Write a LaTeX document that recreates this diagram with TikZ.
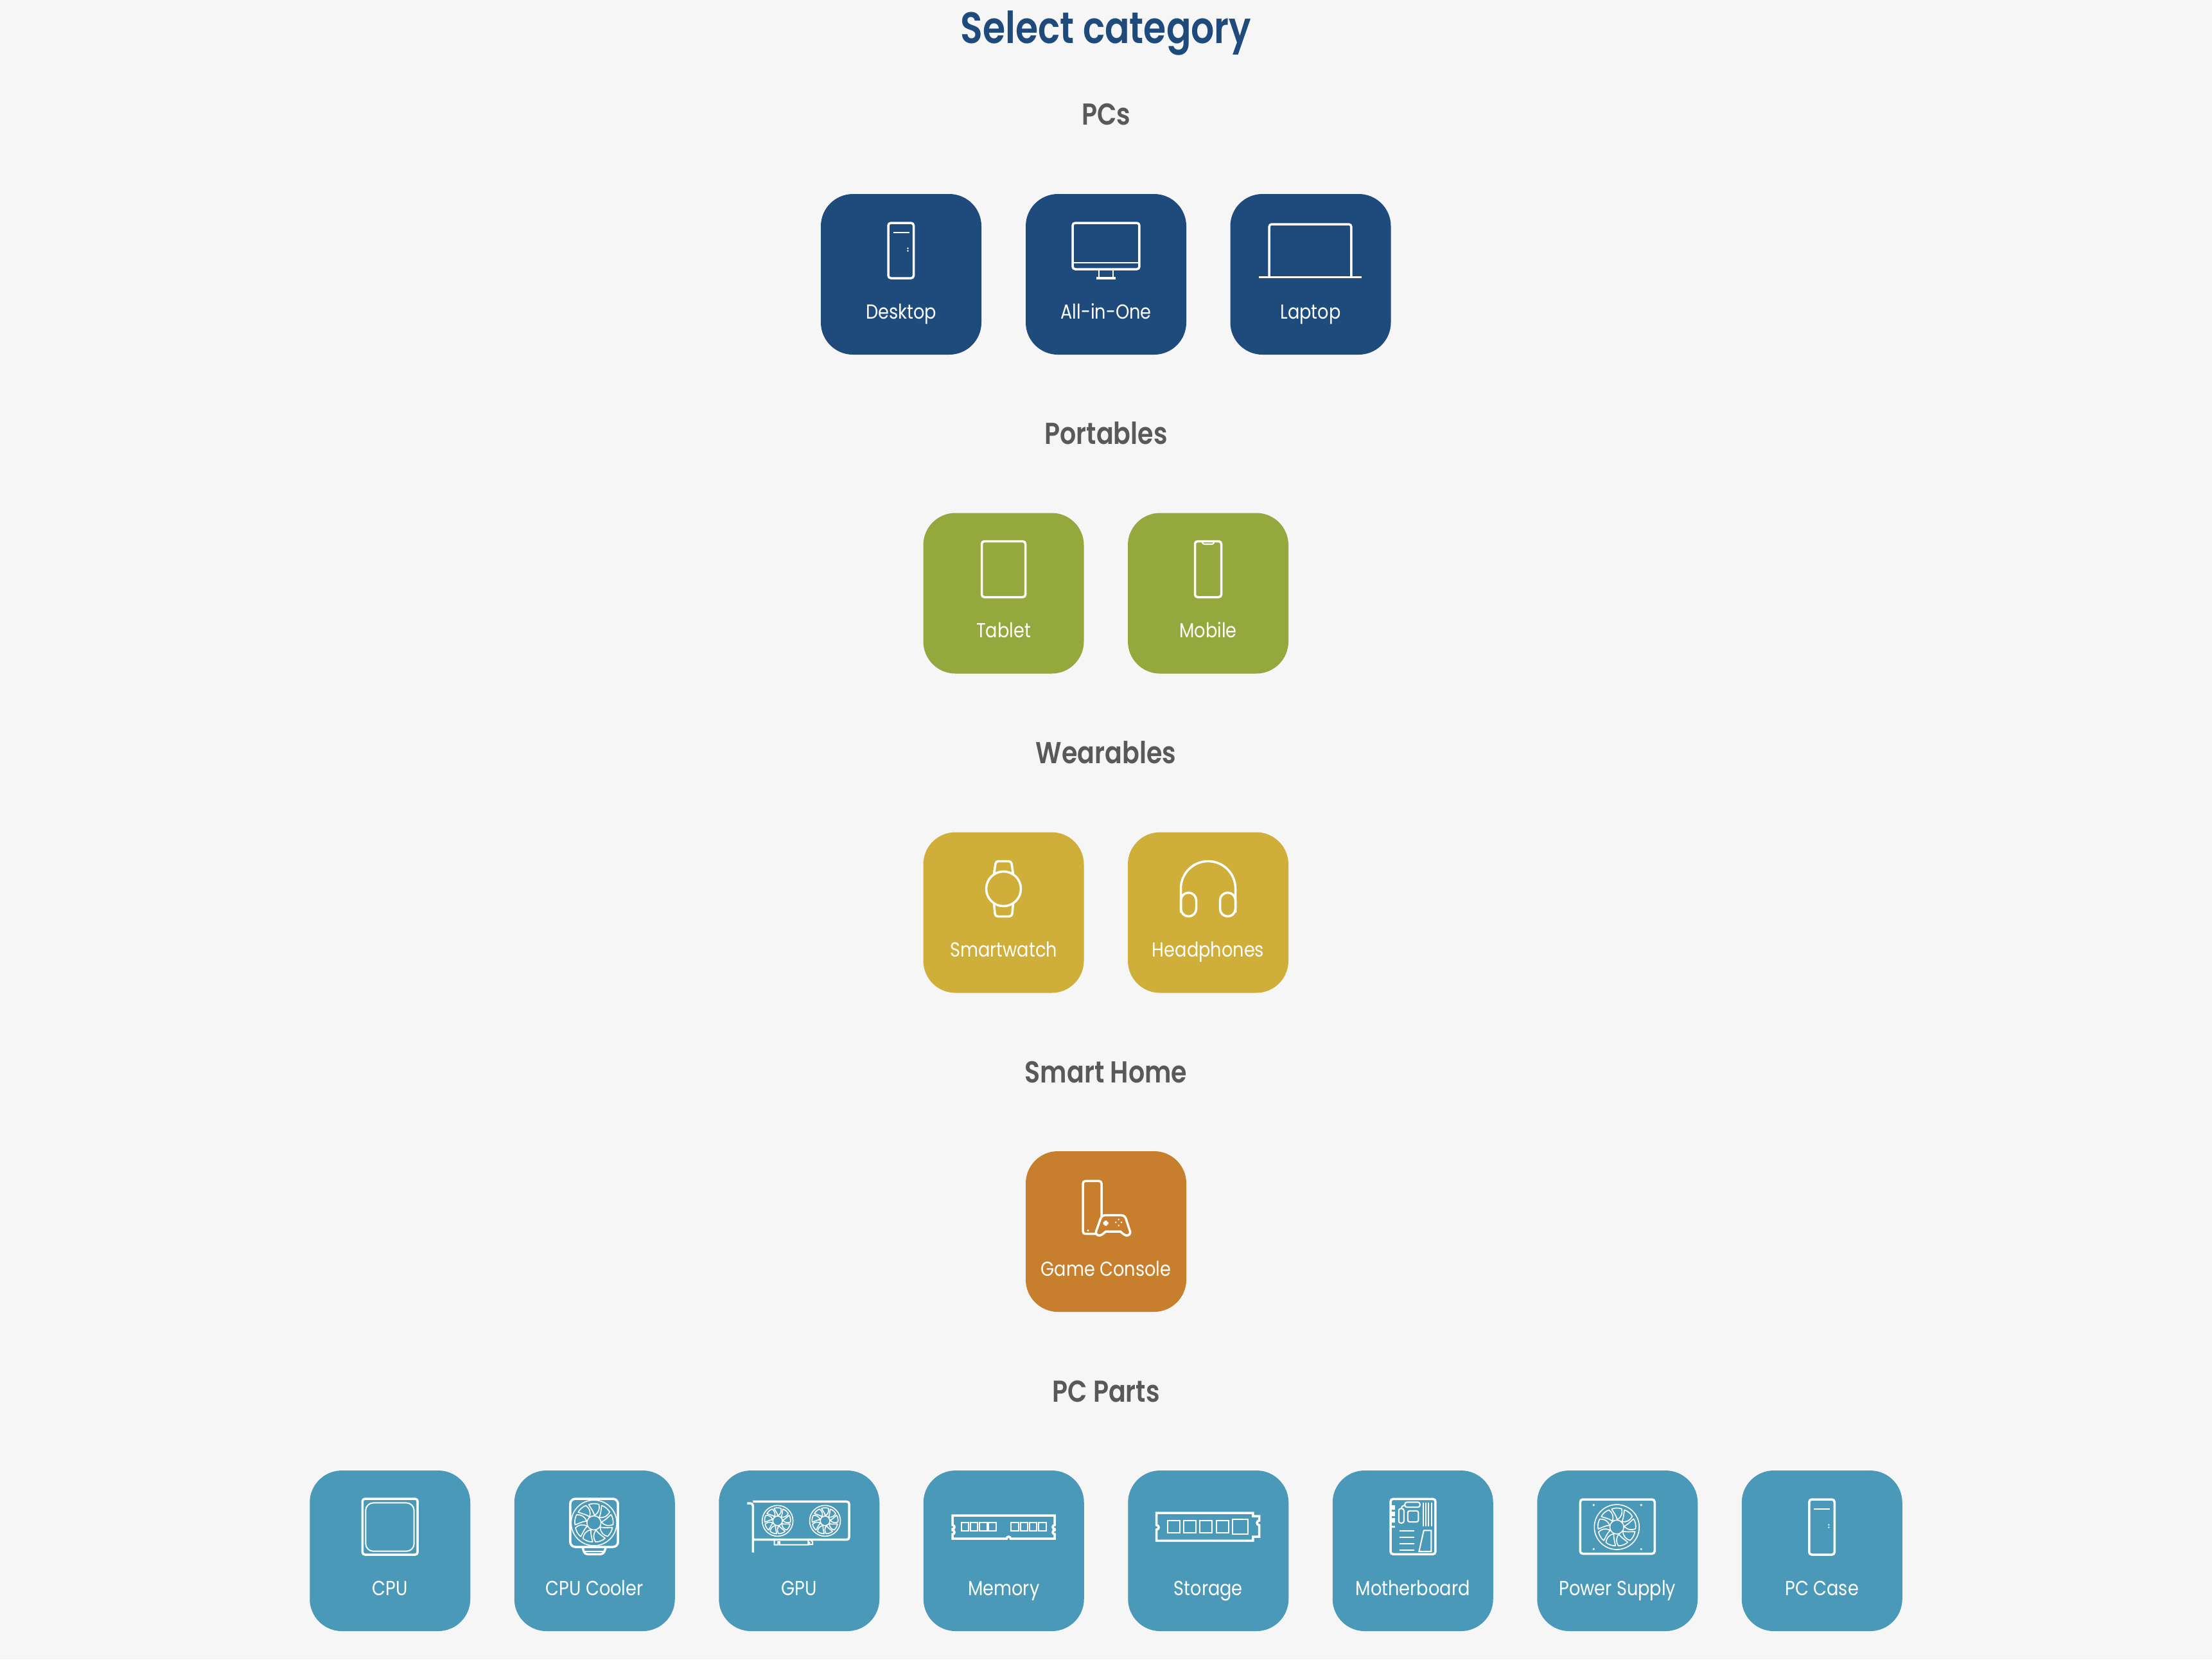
\documentclass[tikz,border=0pt]{standalone}
\usepackage{fontspec}
\setmainfont[FakeStretch=0.86]{Poppins}
\newfontfamily\headfont[FakeStretch=0.84]{Poppins SemiBold}
\newfontfamily\titlefont[FakeStretch=0.83]{Poppins SemiBold}

\definecolor{pagebg}{HTML}{F6F6F6}
\definecolor{pcblue}{HTML}{1F4B7C}
\definecolor{portgreen}{HTML}{95A83E}
\definecolor{wearyellow}{HTML}{D0AE3A}
\definecolor{homeorange}{HTML}{C77F2E}
\definecolor{partteal}{HTML}{4B99B8}
\definecolor{headgrey}{HTML}{595959}

% Fan at (#1,#2), radius #3
\newcommand{\drawfan}[3]{
    \begin{scope}[shift={(#1,#2)}, scale=#3]
        \draw[iconfan] (0,0) circle (1);
        \draw[iconfan] (0,0) circle (0.31);
        \foreach \a in {0,40,...,320}
            \draw[iconfan, rotate=\a] (0.02,0.33) .. controls (-0.02,0.5) and (-0.12,0.62) .. (-0.23,0.8)
                .. controls (-0.1,0.86) and (0.08,0.86) .. (0.22,0.81) .. controls (0.26,0.62) and (0.22,0.45) .. (0.02,0.33) -- cycle;
    \end{scope}
}

\tikzset{
    catbox/.style={rectangle, minimum size=2.5cm, inner sep=0, outer sep=0, rounded corners=0.5cm},
    catlabel/.style={anchor=base, inner sep=0, white, font=\fontsize{9}{11}\selectfont},
    headlabel/.style={anchor=base, inner sep=0, headgrey, font=\headfont\fontsize{13.4}{16}\selectfont},
    icon/.style={scale=0.01},
    iconline/.style={white, line width=0.035cm, rounded corners=0.04cm},
    iconthin/.style={white, line width=0.02cm, rounded corners=0.03cm},
    iconfan/.style={white, line width=0.016cm, line join=round},
    pics/towericon/.style={code={
        \draw[iconline] (-20,-6) rectangle (19.5,80);
        \draw[iconthin] (-12.5,65.5) -- (12.5,65.5);
        \fill[white] (10.5,40.5) circle (1.3) (10.5,36.5) circle (1.3);
    }},
    pics/screenicon/.style={code={
        \draw[iconline] (-52,8) rectangle (52,80);
        \draw[iconthin] (-52,18) -- (52,18);
        \draw[iconthin] (-11,8) -- (-11,-6) (11,8) -- (11,-6);
        \draw[iconline] (-15,-6) -- (15,-6);
    }},
    pics/laptopicon/.style={code={
        \draw[iconline] (-64.5,-4.5) -- (-64.5,78) -- (63.5,78) -- (63.5,-4.5);
        \draw[iconline] (-80.5,-4.5) -- (79.5,-4.5);
    }},
    pics/tableticon/.style={code={
        \draw[iconline] (-34,-6) rectangle (34,81);
    }},
    pics/mobileicon/.style={code={
        \draw[iconline] (-20.5,-6) rectangle (20.5,81);
        \draw[iconthin] (-9,80) -- (-9,76.5) -- (9,76.5) -- (9,80);
    }},
    pics/watchicon/.style={code={
        \draw[iconline] (-15,60) -- (-12,80) -- (12,80) -- (15,60);
        \draw[iconline] (-15,14) -- (-13,-6) -- (13,-6) -- (15,14);
        \draw[iconline] (0,37) circle (27);
    }},
    pics/phonesicon/.style={code={
        \draw[iconline, sharp corners] (-42.5,0) -- (-42.5,37.5) arc (180:0:42.5) -- (42.5,0);
        \draw[iconline, rounded corners=0.12cm] (-42.5,-6) rectangle (-18.5,31);
        \draw[iconline, rounded corners=0.12cm] (18.5,-6) rectangle (42.5,31);
    }},
    pics/consoleicon/.style={code={
        \draw[iconline] (-16,-3.7) -- (-36,-3.7) -- (-36,78.7) -- (-7,78.7) -- (-7,24);
        \fill[white] (-28,1.7) circle (1.7);
        \draw[iconline, sharp corners] (-0.5,0) -- (22.5,0) .. controls (25,-2) and (28,-5.5) .. (32,-6.3)
            .. controls (36,-6.3) and (38.5,-3) .. (37.5,0) -- (31.5,18.5) .. controls (30,23) and (28,25.3) .. (24,25.3)
            -- (-1.5,25.3) .. controls (-5.5,25.3) and (-7.5,23) .. (-9,18.5) -- (-15.5,0)
            .. controls (-16.5,-3) and (-14,-6.3) .. (-10,-6.3) .. controls (-6,-5.5) and (-3,-2) .. (-0.5,0) -- cycle;
        \fill[white] (-2.3,9) rectangle (1.7,17) (-4.3,11) rectangle (3.7,15);
        \fill[white] (19.7,18.7) circle (1.4) (15.3,14.3) circle (1.4) (24,14.3) circle (1.4) (19.7,9.3) circle (1.4);
    }},
    pics/cpuicon/.style={code={
        \draw[iconline] (-43,-6) rectangle (43,81);
        \draw[iconthin, rounded corners=0.12cm] (-38,-0.7) rectangle (37.5,74.7);
    }},
    pics/coolericon/.style={code={
        \draw[iconline, rounded corners=0.08cm] (-38,6) rectangle (36.5,81);
        \drawfan{-1}{43.5}{35.5}
        \draw[iconline] (-19,6) -- (-15.3,-5.3) -- (13.4,-5.3) -- (18,6);
        \draw[iconthin] (-15,-1) -- (13,-1);
    }},
    pics/gpuicon/.style={code={
        \draw[iconline] (-81,74) -- (-72,74) -- (-72,-2.7);
        \draw[iconline] (-72,76.7) -- (78,76.7) -- (78,17.3) -- (-72,17.3);
        \drawfan{-33.6}{46.7}{24}
        \drawfan{40.3}{46.7}{24}
        \draw[iconthin, sharp corners] (-38.6,17) -- (-38.6,9.5) -- (-33,9.5) -- (-33,14) -- (-30.5,14) -- (-30.5,9.5)
            -- (14,9.5) -- (14,17) (14,13) -- (16,13) -- (16,10) -- (20.8,10) -- (20.8,14) -- (18,17);
    }},
    pics/memoryicon/.style={code={
        \draw[iconline, sharp corners] (-79.7,19) -- (-79.7,26) arc (-90:90:3) -- (-79.7,34) arc (-90:90:3) -- (-79.7,55)
            -- (79.3,55) -- (79.3,40) arc (90:270:3) -- (79.3,32) arc (90:270:3) -- (79.3,19)
            -- (10.6,19) arc (0:180:3) -- cycle;
        \foreach \x in {-66.2,-51.9,-37.6,-23.3,11.5,25.8,40.1,54.4}
            \draw[iconthin, sharp corners] (\x,30.7) rectangle (\x+11.5,44);
    }},
    pics/storageicon/.style={code={
        \draw[iconline, sharp corners] (-80.7,15.7) -- (-80.7,33) arc (-90:90:3.5) -- (-80.7,59) -- (69.7,59) -- (69.7,54)
            -- (79.3,54) -- (79.3,47) arc (90:270:3.5) -- (79.3,22) -- (69.7,22) -- (69.7,15.7) -- cycle;
        \draw[iconthin, sharp corners] (-63.5,28) rectangle (-44.4,46.7) (-38.3,28) rectangle (-19.1,46.7)
            (-13,28) rectangle (5.8,46.7) (12.3,28) rectangle (31.4,46.7) (38,25.7) rectangle (62,49);
    }},
    pics/boardicon/.style={code={
        \draw[iconline] (-34.7,-5.3) rectangle (35.2,80.7);
        \fill[white] (-35,64) rectangle (-28,71) (-35,54) rectangle (-28,61) (-35,44) rectangle (-28,51) (-35,36) rectangle (-28,39);
        \draw[iconthin] (-12.4,68) rectangle (11,75.7);
        \draw[iconthin] (-22,43.3) rectangle (-14,65.7);
        \draw[iconthin] (-8,45) rectangle (8.6,62.3);
        \draw[iconthin, sharp corners] (-12.4,71) .. controls (-17,70) and (-18,68) .. (-18,65.7);
        \draw[iconthin] (16,38) -- (16,75) (20.3,38) -- (20.3,75) (24.6,38) -- (24.6,75) (29,38) -- (29,75);
        \draw[iconthin] (-20.4,30.7) -- (2.6,30.7) (-20.4,20.7) -- (2.6,20.7) (-20.4,10.7) -- (2.6,10.7) (-20.4,1.3) -- (2.6,1.3);
        \draw[iconthin, sharp corners] (9.6,-1) -- (28.6,-1) -- (28.6,31.7) -- (17,31.7) -- cycle;
    }},
    pics/supplyicon/.style={code={
        \draw[iconline] (-58,-4.5) rectangle (58,80);
        \drawfan{-1}{37}{35}
        \fill[white] (-37,71.3) circle (1.8) (37,71.3) circle (1.8) (-37,2.7) circle (1.8) (37,2.7) circle (1.8);
    }},
}

\begin{document}
\begin{tikzpicture}
    % Page
    \path[use as bounding box, fill=pagebg] (0,0) rectangle (34.44,-25.83);

    % Title
    \node[anchor=base, inner sep=0, pcblue, font=\titlefont\fontsize{19.5}{24}\selectfont] (title) at (17.22,-0.67) {Select category};

    % PCs
    \node[headlabel] (pcs) at (17.22,-1.945) {PCs};
    \node[catbox, fill=pcblue] (desktop) at (14.03,-4.27) {};
    \node[catbox, fill=pcblue] (allinone) at (17.22,-4.27) {};
    \node[catbox, fill=pcblue] (laptop) at (20.405,-4.27) {};
    \pic[icon] at (desktop) {towericon};
    \pic[icon] at (allinone) {screenicon};
    \pic[icon] at (laptop) {laptopicon};
    \node[catlabel] (desktoptext) at ([yshift=-0.69cm]desktop.center) {Desktop};
    \node[catlabel] (allinonetext) at ([yshift=-0.69cm]allinone.center) {All-in-One};
    \node[catlabel] (laptoptext) at ([yshift=-0.69cm]laptop.center) {Laptop};

    % Portables
    \node[headlabel] (portables) at (17.22,-6.915) {Portables};
    \node[catbox, fill=portgreen] (tablet) at (15.625,-9.235) {};
    \node[catbox, fill=portgreen] (mobile) at (18.81,-9.235) {};
    \pic[icon] at (tablet) {tableticon};
    \pic[icon] at (mobile) {mobileicon};
    \node[catlabel] (tablettext) at ([yshift=-0.69cm]tablet.center) {Tablet};
    \node[catlabel] (mobiletext) at ([yshift=-0.69cm]mobile.center) {Mobile};

    % Wearables
    \node[headlabel] (wearables) at (17.22,-11.885) {Wearables};
    \node[catbox, fill=wearyellow] (smartwatch) at (15.625,-14.205) {};
    \node[catbox, fill=wearyellow] (headphones) at (18.81,-14.205) {};
    \pic[icon] at (smartwatch) {watchicon};
    \pic[icon] at (headphones) {phonesicon};
    \node[catlabel] (smartwatchtext) at ([yshift=-0.69cm]smartwatch.center) {Smartwatch};
    \node[catlabel] (headphonestext) at ([yshift=-0.69cm]headphones.center) {Headphones};

    % Smart Home
    \node[headlabel] (smarthome) at (17.22,-16.855) {Smart Home};
    \node[catbox, fill=homeorange] (console) at (17.22,-19.17) {};
    \pic[icon] at (console) {consoleicon};
    \node[catlabel] (consoletext) at ([yshift=-0.69cm]console.center) {Game Console};

    % PC Parts
    \node[headlabel] (pcparts) at (17.22,-21.825) {PC Parts};
    \node[catbox, fill=partteal] (cpu) at (6.0725,-24.14) {};
    \node[catbox, fill=partteal] (cooler) at (9.2575,-24.14) {};
    \node[catbox, fill=partteal] (gpu) at (12.4425,-24.14) {};
    \node[catbox, fill=partteal] (memory) at (15.6275,-24.14) {};
    \node[catbox, fill=partteal] (storage) at (18.8125,-24.14) {};
    \node[catbox, fill=partteal] (board) at (21.9975,-24.14) {};
    \node[catbox, fill=partteal] (supply) at (25.1825,-24.14) {};
    \node[catbox, fill=partteal] (pccase) at (28.3675,-24.14) {};
    \pic[icon] at (cpu) {cpuicon};
    \pic[icon] at (cooler) {coolericon};
    \pic[icon] at (gpu) {gpuicon};
    \pic[icon] at (memory) {memoryicon};
    \pic[icon] at (storage) {storageicon};
    \pic[icon] at (board) {boardicon};
    \pic[icon] at (supply) {supplyicon};
    \pic[icon] at (pccase) {towericon};
    \node[catlabel] (cputext) at ([yshift=-0.69cm]cpu.center) {CPU};
    \node[catlabel] (coolertext) at ([yshift=-0.69cm]cooler.center) {CPU Cooler};
    \node[catlabel] (gputext) at ([yshift=-0.69cm]gpu.center) {GPU};
    \node[catlabel] (memorytext) at ([yshift=-0.69cm]memory.center) {Memory};
    \node[catlabel] (storagetext) at ([yshift=-0.69cm]storage.center) {Storage};
    \node[catlabel] (boardtext) at ([yshift=-0.69cm]board.center) {Motherboard};
    \node[catlabel] (supplytext) at ([yshift=-0.69cm]supply.center) {Power Supply};
    \node[catlabel] (pccasetext) at ([yshift=-0.69cm]pccase.center) {PC Case};
\end{tikzpicture}
\end{document}
